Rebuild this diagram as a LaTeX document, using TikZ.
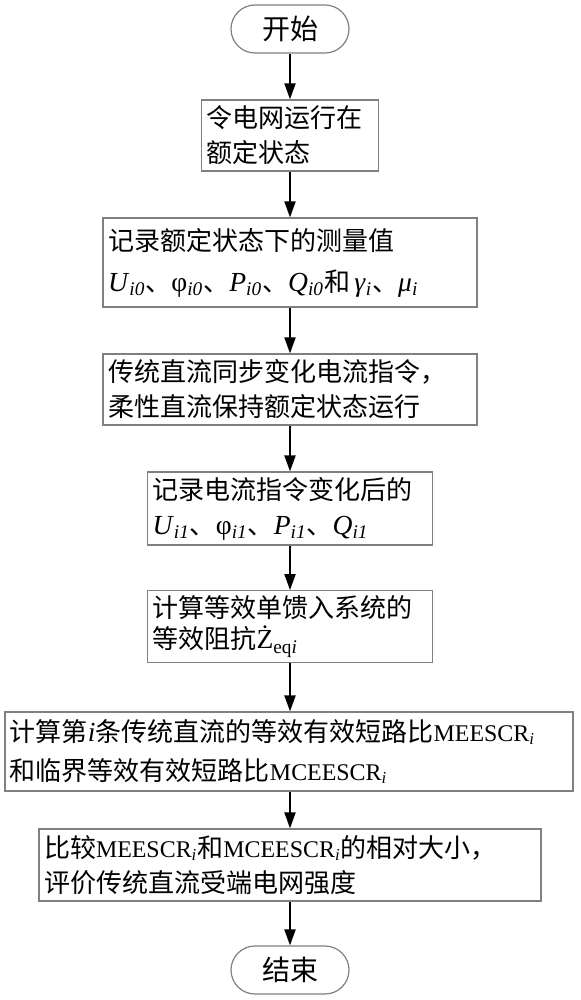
\documentclass[tikz,border=0pt]{standalone}
\usepackage{fontspec}
\setmainfont{Noto Sans CJK SC}
\newfontfamily\tnr[Scale=0.92]{Liberation Serif}
\newfontfamily\tnrv[Scale=1.06]{Liberation Serif}
\usetikzlibrary{arrows.meta, positioning}
\definecolor{BoxGray}{RGB}{128,128,128}
% variable with italic subscript
\newcommand{\vsub}[2]{{\tnrv\textit{#1}\textsubscript{\textit{#2}}}}
\newcommand{\usub}[2]{{\tnr #1\textsubscript{\textit{#2}}}}

\begin{document}
\begin{tikzpicture}[x=0.5pt,y=-0.5pt,
        term/.style={draw=BoxGray,line width=0.6pt,rounded corners=12pt,
                     minimum width=59pt,minimum height=24pt,inner sep=0pt,
                     font=\fontsize{14}{17}\selectfont},
        proc/.style={draw=BoxGray,line width=0.6pt,align=left,inner sep=2.5pt,
                     font=\fontsize{13}{17.5}\selectfont},
        arr/.style={-{Triangle[length=8pt,width=5.5pt]},line width=1pt}
      ]
        \useasboundingbox (0,0) rectangle (580,1000);
        \node[term] (start) at (290,29) {开始};
        \node[proc,text width=83.5pt,minimum height=35.5pt] (b1) at (290,135.5)
          {令电网运行在\\额定状态};
        \node[proc,text width=182pt,minimum height=44.5pt] (b2) at (290,262.5)
          {记录额定状态下的测量值\\[3pt]
           \vsub{U}{i0}、{\tnrv φ\textsubscript{\textit{i0}}}、\vsub{P}{i0}、\vsub{Q}{i0}和\,\vsub{γ}{i}、\vsub{μ}{i}};
        \node[proc,text width=182pt,minimum height=35.5pt] (b3) at (290,389.5)
          {传统直流同步变化电流指令，\\柔性直流保持额定状态运行};
        \node[proc,text width=137.5pt,minimum height=35.5pt] (b4) at (290,508.5)
          {记录电流指令变化后的\\
           \vsub{U}{i1}、{\tnrv φ\textsubscript{\textit{i1}}}、\vsub{P}{i1}、\vsub{Q}{i1}};
        \node[proc,text width=137.5pt,minimum height=35.5pt] (b5) at (290,626.5)
          {计算等效单馈入系统的\\[-2pt]
           等效阻抗{\tnrv Ż\textsubscript{eq\textit{i}}}};
        \node[proc,text width=279pt,minimum height=39.5pt] (b6) at (289,751.5)
          {计算第{\tnrv\textit{i}}条传统直流的等效有效短路比\usub{MEESCR}{i}\\[2pt]
           和临界等效有效短路比\usub{MCEESCR}{i}};
        \node[proc,text width=246pt,minimum height=36pt] (b7) at (290,865)
          {比较\usub{MEESCR}{i}和\usub{MCEESCR}{i}的相对大小，\\
           评价传统直流受端电网强度};
        \node[term] (stop) at (290,970) {结束};
        \draw[arr] (start)--(b1);
        \draw[arr] (b1)--(b2);
        \draw[arr] (b2)--(b3);
        \draw[arr] (b3)--(b4);
        \draw[arr] (b4)--(b5);
        \draw[arr] (b5)--(b5|-b6.north);
        \draw[arr] (b6.south-|b7)--(b7);
        \draw[arr] (b7)--(stop);
      \end{tikzpicture}
\end{document}
